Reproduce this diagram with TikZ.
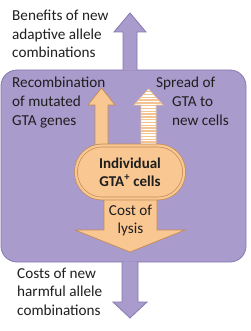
\documentclass[tikz,border=0pt]{standalone}
\usepackage{fontspec}
\setmainfont{Carlito}
\definecolor{pfill}{RGB}{169,155,204}
\definecolor{pdraw}{RGB}{135,120,178}
\definecolor{ofill}{RGB}{249,199,146}
\definecolor{odraw}{RGB}{196,140,84}
\definecolor{ostripe}{RGB}{243,196,146}
\definecolor{txt}{RGB}{30,30,30}
\begin{document}
\begin{tikzpicture}[x=1pt,y=-1pt,
  purplebox/.style={fill=pfill,draw=pdraw,line width=0.8pt,rounded corners=16pt},
  purplearrow/.style={fill=pfill,draw=pdraw,line width=0.8pt},
  orangearrow/.style={fill=ofill,draw=odraw,line width=0.7pt},
  stripearrow/.style={draw=ostripe,line width=0.6pt},
  ovalnode/.style={fill=ofill,draw=odraw,double=ofill,double distance=2.2pt,line width=0.7pt,
    rounded corners=26pt,minimum width=108pt,minimum height=53pt,inner sep=0pt,
    font=\fontsize{15}{18}\selectfont\bfseries,align=center,text=txt},
  label/.style={font=\fontsize{15.2}{18.5}\selectfont,align=left,text=txt,inner sep=0pt,anchor=base west},
  clabel/.style={font=\fontsize{15.2}{18}\selectfont,align=center,text=txt,inner sep=0pt,anchor=base}]
\useasboundingbox (0,0) rectangle (250,331);
% main purple box
\draw[purplebox] (1,70) rectangle (246,262);
% top purple arrow
\draw[purplearrow] (123,70.4) -- (123,32) -- (114,32) -- (130,13) -- (146,32) -- (137,32) -- (137,70.4);
% bottom purple arrow
\draw[purplearrow] (122,261.6) -- (122,302) -- (113,302) -- (130,318) -- (147,302) -- (138,302) -- (138,261.6);
% orange up arrow
\draw[orangearrow] (95,152) -- (95,105) -- (88,105) -- (101.5,88) -- (115,105) -- (108,105) -- (108,152) -- cycle;
% striped arrow
\fill[white] (141,152) -- (141,105) -- (134,105) -- (148.5,89) -- (163,105) -- (156,105) -- (156,152) -- cycle;
\begin{scope}
\clip (141,152) -- (141,105) -- (134,105) -- (148.5,89) -- (163,105) -- (156,105) -- (156,152) -- cycle;
\foreach \k in {0,...,23} {\fill[ostripe] (130,91+2.8*\k) rectangle (166,92.4+2.8*\k);}
\end{scope}
\draw[stripearrow] (141,152) -- (141,105) -- (134,105) -- (148.5,89) -- (163,105) -- (156,105) -- (156,152);
% down orange arrow
\draw[orangearrow] (104,190) -- (104,230) -- (75,230) -- (130,252) -- (185,230) -- (157,230) -- (157,190) -- cycle;
% oval
\node[ovalnode] (cells) at (130,172) {Individual\\GTA\textsuperscript{+} cells};
% texts
\node[label] (benefits) at (12,58) {Benefits of new\\adaptive allele\\combinations};
\node[label] (recomb) at (12,125) {Recombination\\of mutated\\GTA genes};
\node[label] (spread) at (172,125) {\hspace*{-16pt}Spread of\\GTA to\\new cells};
\node[clabel] (lysis) at (130.5,233) {Cost of\\lysis};
\node[label] (costs) at (17,315) {Costs of new\\harmful allele\\combinations};
\end{tikzpicture}
\end{document}
